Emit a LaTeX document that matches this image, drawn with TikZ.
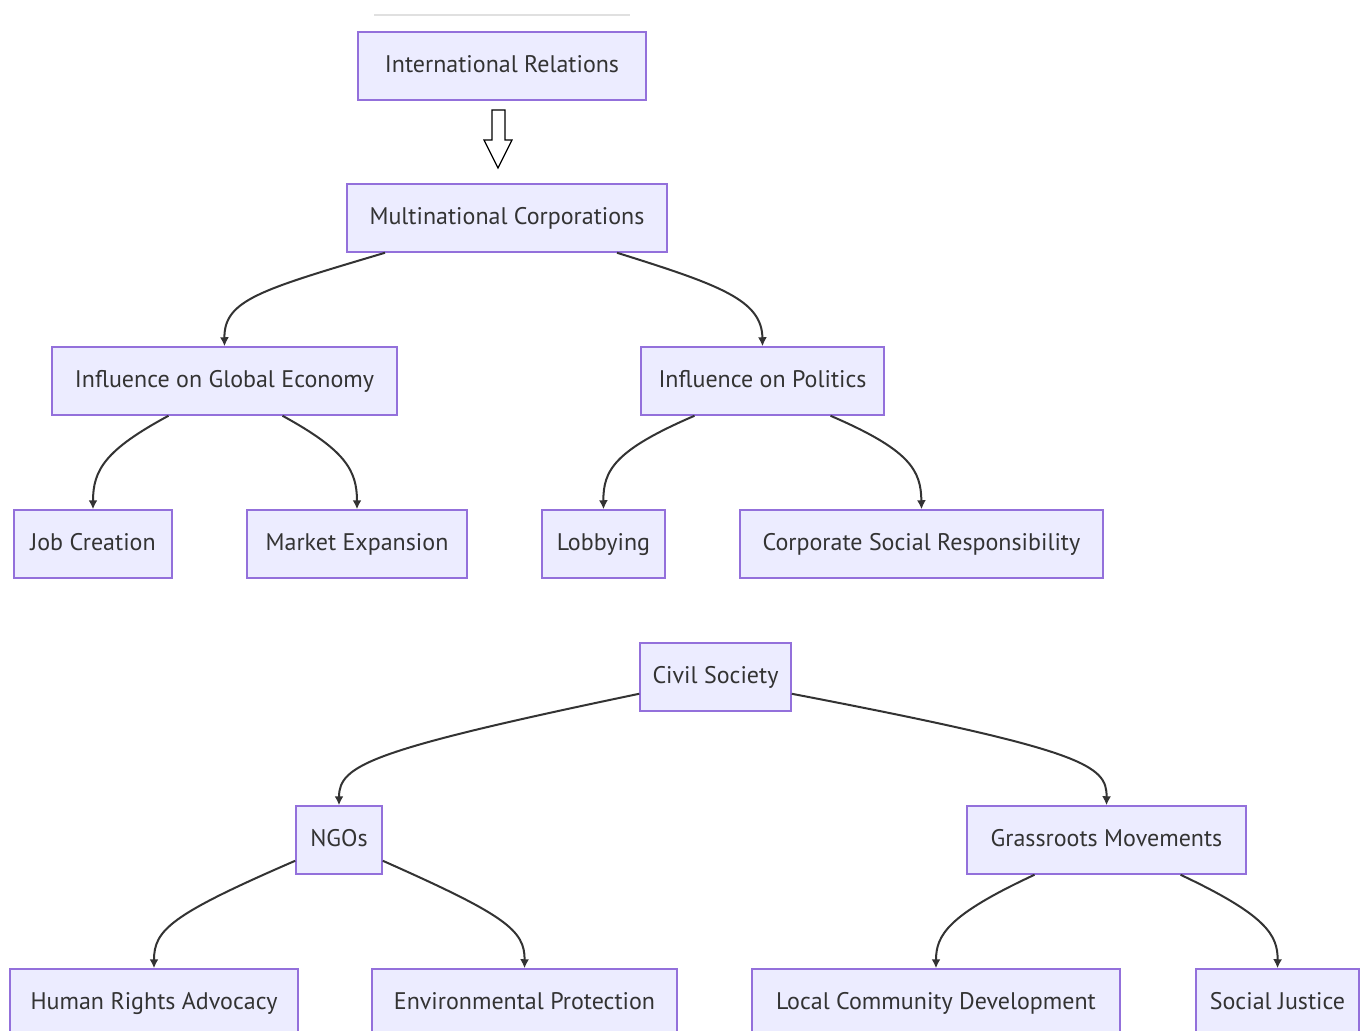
\documentclass[tikz,border=0pt]{standalone}
\usepackage{fontspec}
\setmainfont{PT Sans}
\usetikzlibrary{arrows.meta}
\definecolor{nodefill}{HTML}{ECECFF}
\definecolor{nodeline}{HTML}{9370DB}
\definecolor{txt}{HTML}{333333}
\tikzset{
  box/.style={draw=nodeline, fill=nodefill, line width=0.75pt, minimum height=34pt, inner sep=0pt, text height=8.5pt, text depth=2.5pt, text=txt, font=\fontsize{12}{14}\selectfont},
  link/.style={draw=txt, line width=1pt, -{Latex[length=4.5pt,width=4.5pt]}}
}
\begin{document}
\begin{tikzpicture}[x=0.5pt,y=-0.5pt]
\useasboundingbox (0,0) rectangle (1367,1030);
\draw[black!12, line width=1pt] (374,15) -- (630,15);
\node[box, minimum width=144pt] (ir) at (502,66) {International Relations};
\node[box, minimum width=160pt] (mnc) at (507,218) {Multinational Corporations};
\node[box, minimum width=172.5pt] (ige) at (224.5,381) {Influence on Global Economy};
\node[box, minimum width=121.5pt] (ip) at (762.5,381) {Influence on Politics};
\node[box, minimum width=79pt] (jc) at (93,544) {Job Creation};
\node[box, minimum width=110pt] (me) at (357,544) {Market Expansion};
\node[box, minimum width=61.5pt] (lob) at (603.5,544) {Lobbying};
\node[box, minimum width=181.5pt] (csr) at (921.5,544) {Corporate Social Responsibility};
\node[box, minimum width=75.5pt] (cs) at (715.5,677) {Civil Society};
\node[box, minimum width=43pt] (ngo) at (339,840) {NGOs};
\node[box, minimum width=139.5pt] (gm) at (1106.5,840) {Grassroots Movements};
\node[box, minimum width=144pt] (hra) at (154,1003) {Human Rights Advocacy};
\node[box, minimum width=152.5pt] (ep) at (524.5,1003) {Environmental Protection};
\node[box, minimum width=184pt] (lcd) at (936,1003) {Local Community Development};
\node[box, minimum width=81.5pt] (sj) at (1277.5,1003) {Social Justice};
% hollow block arrow
\draw[black, line width=0.6pt, fill=white] (492,110) -- (505,110) -- (505,140) -- (512,140) -- (498,168) -- (484,140) -- (492,140) -- cycle;
% connectors
\draw[link] ([xshift=-61pt]mnc.south) .. controls (260,290) and (224,300) .. (ige.north);
\draw[link] ([xshift=55pt]mnc.south) .. controls (720,285) and (762,300) .. (ip.north);
\draw[link] ([xshift=-28pt]ige.south) .. controls (105,450) and (93,470) .. (jc.north);
\draw[link] ([xshift=29pt]ige.south) .. controls (345,450) and (357,470) .. (me.north);
\draw[link] ([xshift=-34pt]ip.south) .. controls (615,450) and (603,470) .. (lob.north);
\draw[link] ([xshift=34pt]ip.south) .. controls (910,450) and (921,470) .. (csr.north);
\draw[link] (cs.south west) ++(0,-18) .. controls (370,750) and (339,765) .. (ngo.north);
\draw[link] (cs.south east) ++(0,-18) .. controls (1085,750) and (1107,765) .. (gm.north);
\draw[link] (ngo.south west) ++(0,-14) .. controls (170,915) and (154,930) .. (hra.north);
\draw[link] (ngo.south east) ++(0,-14) .. controls (505,915) and (525,930) .. (ep.north);
\draw[link] ([xshift=-36pt]gm.south) .. controls (948,915) and (936,935) .. (lcd.north);
\draw[link] ([xshift=37pt]gm.south) .. controls (1266,915) and (1278,935) .. (sj.north);
\end{tikzpicture}
\end{document}
